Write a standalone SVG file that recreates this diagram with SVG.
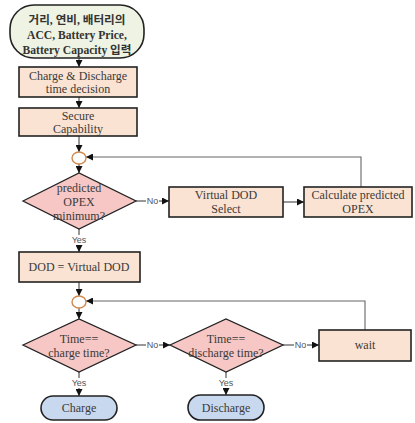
<svg xmlns="http://www.w3.org/2000/svg" width="415" height="423" viewBox="0 0 415 423">
<style>
.box{fill:#fbe3d3;stroke:#222;stroke-width:1.6}
.dia{fill:#f6c7c4;stroke:#222;stroke-width:1.3}
.term{fill:#c8d8ee;stroke:#222;stroke-width:1.6}
.start{fill:#eef3e4;stroke:#222;stroke-width:1.6}
.circ{fill:#fff;stroke:#d0884a;stroke-width:1.4}
.t{font-family:"Liberation Serif",serif;font-size:12px;fill:#3a3a3a;text-anchor:middle}
.tb{font-family:"Liberation Serif","Noto Sans CJK KR",serif;font-size:11.6px;font-weight:bold;fill:#333;text-anchor:middle}
.lbl{font-family:"Liberation Sans",sans-serif;font-size:9px;fill:#555;text-anchor:middle}
.ln{fill:none;stroke:#333;stroke-width:1}
.fb{fill:none;stroke:#666;stroke-width:1.1}
</style>
<defs>
<marker id="ah" viewBox="0 0 10 10" refX="10" refY="5" markerWidth="7" markerHeight="7" orient="auto" markerUnits="userSpaceOnUse">
<path d="M0,0 L10,5 L0,10 z" fill="#111"/>
</marker>
</defs>
<g id="connectors">
<line class="ln" x1="79" y1="58" x2="79" y2="67" marker-end="url(#ah)"/>
<line class="ln" x1="79" y1="97" x2="79" y2="108" marker-end="url(#ah)"/>
<line class="ln" x1="79" y1="136" x2="79" y2="152" marker-end="url(#ah)"/>
<line class="ln" x1="79" y1="164" x2="79" y2="173" marker-end="url(#ah)"/>
<line class="ln" x1="136" y1="201" x2="146" y2="201"/>
<line class="ln" x1="159" y1="201" x2="169" y2="201" marker-end="url(#ah)"/>
<text class="lbl" x="152.5" y="204">No</text>
<line class="ln" x1="283" y1="202" x2="304" y2="202" marker-end="url(#ah)"/>
<polyline class="fb" points="361,187 361,157 86,157" marker-end="url(#ah)"/>
<line class="ln" x1="79" y1="229" x2="79" y2="235"/>
<line class="ln" x1="79" y1="245" x2="79" y2="252" marker-end="url(#ah)"/>
<text class="lbl" x="79" y="243">Yes</text>
<line class="ln" x1="79" y1="282" x2="79" y2="296" marker-end="url(#ah)"/>
<line class="ln" x1="79" y1="308" x2="79" y2="319" marker-end="url(#ah)"/>
<line class="ln" x1="136" y1="345" x2="146" y2="345"/>
<line class="ln" x1="159" y1="345" x2="170" y2="345" marker-end="url(#ah)"/>
<text class="lbl" x="152.5" y="348">No</text>
<line class="ln" x1="283" y1="345" x2="294" y2="345"/>
<line class="ln" x1="307" y1="345" x2="319" y2="345" marker-end="url(#ah)"/>
<text class="lbl" x="300.5" y="348">No</text>
<polyline class="fb" points="365,330 365,301 86,301" marker-end="url(#ah)"/>
<line class="ln" x1="79" y1="372" x2="79" y2="378"/>
<line class="ln" x1="79" y1="388" x2="79" y2="396" marker-end="url(#ah)"/>
<text class="lbl" x="79" y="386">Yes</text>
<line class="ln" x1="226" y1="372" x2="226" y2="378"/>
<line class="ln" x1="226" y1="388" x2="226" y2="395" marker-end="url(#ah)"/>
<text class="lbl" x="226" y="386">Yes</text>
</g>
<g id="start">
<rect class="start" x="10" y="5" width="134" height="53" rx="24" ry="24"/>
<text class="tb" x="77" y="24">거리, 연비, 배터리의</text>
<text class="tb" x="77" y="39">ACC, Battery Price,</text>
<text class="tb" x="77" y="54">Battery Capacity 입력</text>
</g>
<g id="timedecision">
<rect class="box" x="19" y="67" width="118" height="30"/>
<text class="t" x="78" y="80">Charge &amp; Discharge</text>
<text class="t" x="78" y="93">time decision</text>
</g>
<g id="secure">
<rect class="box" x="19" y="108" width="118" height="28"/>
<text class="t" x="78" y="120">Secure</text>
<text class="t" x="78" y="133">Capability</text>
</g>
<g id="merge1"><ellipse class="circ" cx="79" cy="158" rx="7" ry="6"/></g>
<g id="opexmin">
<polygon class="dia" points="23,201 79,173 136,201 79,229"/>
<text class="t" x="79" y="192">predicted</text>
<text class="t" x="79" y="206">OPEX</text>
<text class="t" x="79" y="220">minimum?</text>
</g>
<g id="virtualdod">
<rect class="box" x="169" y="187" width="114" height="30"/>
<text class="t" x="226" y="199">Virtual DOD</text>
<text class="t" x="226" y="213">Select</text>
</g>
<g id="calcopex">
<rect class="box" x="304" y="187" width="108" height="30"/>
<text class="t" x="358" y="199">Calculate predicted</text>
<text class="t" x="358" y="213">OPEX</text>
</g>
<g id="dod">
<rect class="box" x="19" y="252" width="121" height="30"/>
<text class="t" x="79" y="271">DOD = Virtual DOD</text>
</g>
<g id="merge2"><ellipse class="circ" cx="79" cy="302" rx="7" ry="6"/></g>
<g id="chargetime">
<polygon class="dia" points="23,345 79,319 136,345 79,372"/>
<text class="t" x="79" y="343">Time==</text>
<text class="t" x="79" y="357">charge time?</text>
</g>
<g id="dischargetime">
<polygon class="dia" points="170,345 226,319 283,345 226,372"/>
<text class="t" x="226" y="343">Time==</text>
<text class="t" x="226" y="357">discharge time?</text>
</g>
<g id="wait">
<rect class="box" x="319" y="330" width="92" height="31"/>
<text class="t" x="365" y="349">wait</text>
</g>
<g id="charge">
<rect class="term" x="41" y="396" width="76" height="24" rx="12" ry="12"/>
<text class="t" x="79" y="412">Charge</text>
</g>
<g id="discharge">
<rect class="term" x="188" y="395" width="76" height="25" rx="12.5" ry="12.5"/>
<text class="t" x="226" y="412">Discharge</text>
</g>
</svg>
